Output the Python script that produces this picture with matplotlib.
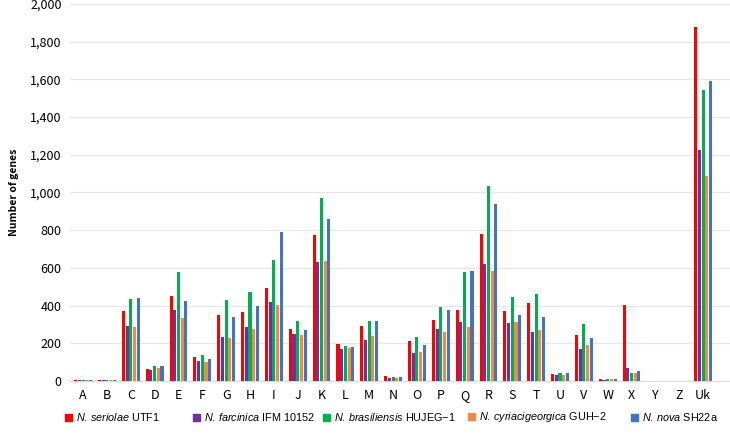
import numpy as np
import matplotlib
matplotlib.use('Agg')
import matplotlib.pyplot as plt
from matplotlib.patches import Patch

plt.rcParams['font.family'] = ['Noto Sans CJK JP', 'DejaVu Sans']
plt.rcParams['mathtext.fontset'] = 'custom'
plt.rcParams['mathtext.it'] = 'Liberation Sans:italic'
plt.rcParams['mathtext.rm'] = 'Liberation Sans'

categories = ['A', 'B', 'C', 'D', 'E', 'F', 'G', 'H', 'I', 'J', 'K', 'L', 'M',
              'N', 'O', 'P', 'Q', 'R', 'S', 'T', 'U', 'V', 'W', 'X', 'Y', 'Z', 'Uk']

seriolae = [5, 5, 370, 65, 450, 125, 350, 365, 495, 278, 776, 196, 292,
            27, 212, 324, 377, 781, 371, 415, 35, 245, 10, 405, 0, 0, 1875]
farcinica = [5, 5, 290, 60, 375, 105, 235, 285, 420, 249, 631, 172, 217,
             16, 150, 278, 311, 619, 308, 260, 30, 170, 5, 70, 0, 0, 1225]
brasiliensis = [5, 5, 435, 80, 580, 140, 430, 470, 640, 317, 969, 187, 317,
                20, 232, 393, 580, 1034, 444, 460, 45, 305, 10, 45, 0, 0, 1545]
cyriacigeorgica = [5, 5, 285, 70, 335, 100, 230, 275, 405, 242, 635, 177, 237,
                   17, 154, 260, 286, 584, 313, 270, 30, 190, 10, 45, 0, 0, 1090]
nova = [5, 5, 440, 80, 425, 115, 340, 400, 790, 269, 861, 180, 317,
        19, 191, 375, 585, 939, 352, 340, 45, 230, 10, 55, 0, 0, 1590]

series = [seriolae, farcinica, brasiliensis, cyriacigeorgica, nova]
labels = [r'$\it{N.\,seriolae}$ UTF1',
          r'$\it{N.\,farcinica}$ IFM 10152',
          r'$\it{N.\,brasiliensis}$ HUJEG−1',
          r'$\it{N.\,cyriacigeorgica}$ GUH−2',
          r'$\it{N.\,nova}$ SH22a']
colors = ['#FF0000', '#7030A0', '#00B050', '#ED8B4A', '#4472C4']

fig = plt.figure(figsize=(7.3, 4.34), dpi=100)
ax = fig.add_axes([0.096, 0.122, 0.904, 0.869])

x = np.arange(len(categories))
step = 0.155
width = 0.13
for i, (vals, col) in enumerate(zip(series, colors)):
    ax.bar(x + (i - 2) * step, vals, width, color=col, zorder=3)

ax.set_xlim(-0.545, 27.13)
ax.set_ylim(0, 2000)
ax.set_yticks(np.arange(0, 2001, 200))
ax.set_yticklabels(['{:,}'.format(v) for v in range(0, 2001, 200)], fontsize=9)
ax.set_xticks(x)
ax.set_xticklabels(categories, fontsize=9)
ax.tick_params(length=0, pad=6)
ax.grid(axis='y', color='#E6E6E6', linewidth=0.8, zorder=0)
for s in ['top', 'right', 'left']:
    ax.spines[s].set_visible(False)
ax.spines['bottom'].set_color('#D9D9D9')
ax.set_ylabel('Number of genes', fontsize=7.5, fontweight='bold', labelpad=8)

# legend entries placed one by one, like the original layout
leg_x = [65, 193, 323, 468, 631]
for px, lab, col in zip(leg_x, labels, colors):
    fig.legend(handles=[Patch(color=col, label=lab)], loc='center left',
               bbox_to_anchor=(px / 730, 0.039), frameon=False,
               prop={'family': ['Liberation Sans', 'DejaVu Sans'], 'size': 7.8},
               handlelength=0.6, handleheight=0.6, handletextpad=0.4,
               borderpad=0, borderaxespad=0)

fig.savefig('out.png', dpi=100)
